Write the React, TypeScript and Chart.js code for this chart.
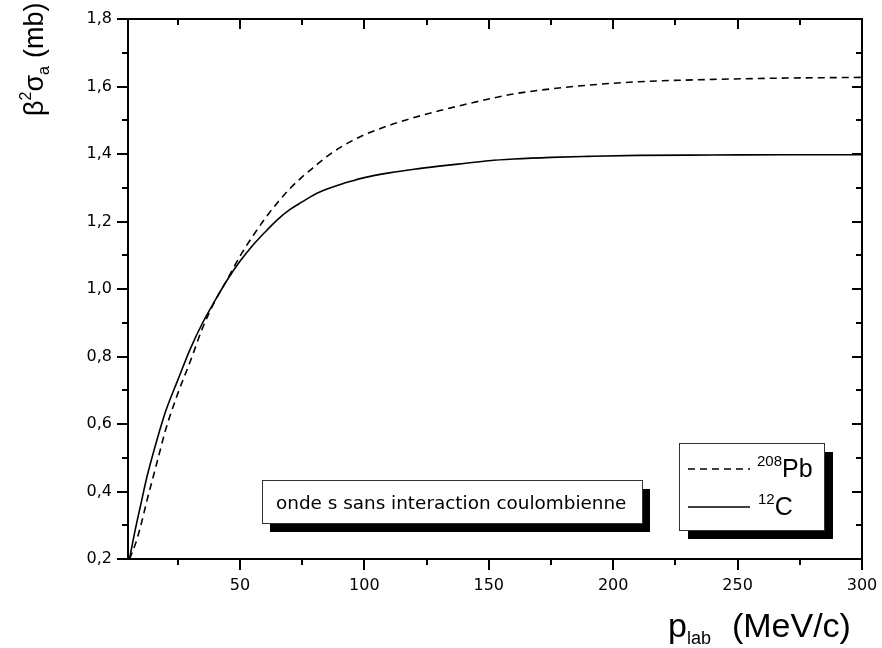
import React, { useEffect, useRef } from "react";
import { Chart, registerables } from "chart.js";

Chart.register(...registerables);

// momentum p_lab (MeV/c)
const pLab = [5.6, 8, 10, 12.5, 15, 17.5, 20, 25, 30, 35, 40, 45, 50, 55, 60, 65, 70, 75, 80, 85, 90, 95, 100, 110, 120, 130, 140, 150, 160, 175, 190, 210, 240, 270, 300];
// beta^2 sigma_a (mb), 208Pb (dashed)
const sigmaPb = [0.2, 0.245, 0.295, 0.37, 0.44, 0.51, 0.58, 0.69, 0.785, 0.885, 0.965, 1.03, 1.097, 1.155, 1.208, 1.255, 1.297, 1.332, 1.363, 1.393, 1.418, 1.439, 1.457, 1.485, 1.508, 1.528, 1.546, 1.563, 1.578, 1.593, 1.604, 1.614, 1.621, 1.625, 1.627];
// beta^2 sigma_a (mb), 12C (solid)
const sigmaC = [0.2, 0.29, 0.357, 0.44, 0.51, 0.575, 0.635, 0.73, 0.822, 0.9, 0.966, 1.028, 1.082, 1.128, 1.168, 1.205, 1.235, 1.258, 1.28, 1.296, 1.309, 1.32, 1.33, 1.344, 1.355, 1.364, 1.372, 1.38, 1.385, 1.39, 1.393, 1.396, 1.397, 1.398, 1.398];

const xMajorTicks = [50, 100, 150, 200, 250, 300];
const xMinorTicks = [25, 75, 125, 175, 225, 275];
const yMajorTicks = [0.2, 0.4, 0.6, 0.8, 1.0, 1.2, 1.4, 1.6, 1.8];
const yMinorTicks = [0.3, 0.5, 0.7, 0.9, 1.1, 1.3, 1.5, 1.7];

const X_MIN = 5;
const X_MAX = 300;
const Y_MIN = 0.2;
const Y_MAX = 1.8;

const boxText = "onde s sans interaction coulombienne";
const legendPb = { sup: "208", main: "Pb" };
const legendC = { sup: "12", main: "C" };

const SANS = "'Liberation Sans', Arial, sans-serif";
const VERD = "'DejaVu Sans', Verdana, sans-serif";

type Piece = { text: string; size: number; dy: number; gapAfter?: number };

function drawPieces(ctx: CanvasRenderingContext2D, pieces: Piece[], x: number, y: number) {
  let cx = x;
  for (const p of pieces) {
    ctx.font = `${p.size}px ${SANS}`;
    ctx.fillText(p.text, cx, y + p.dy);
    cx += ctx.measureText(p.text).width + (p.gapAfter || 0);
  }
  return cx;
}

const decorPlugin = {
  id: "decor",
  afterDraw(chart: any) {
    const ctx: CanvasRenderingContext2D = chart.ctx;
    const { left, right, top, bottom } = chart.chartArea;
    const xs = chart.scales.x;
    const ys = chart.scales.y;
    ctx.save();
    ctx.strokeStyle = "#000";
    ctx.fillStyle = "#000";
    ctx.setLineDash([]);
    const line = (x1: number, y1: number, x2: number, y2: number) => {
      ctx.beginPath();
      ctx.moveTo(x1, y1);
      ctx.lineTo(x2, y2);
      ctx.stroke();
    };
    ctx.lineWidth = 2;
    // frame
    ctx.strokeRect(left, top, right - left, bottom - top);
    // x ticks
    for (const v of xMajorTicks) {
      const px = Math.round(xs.getPixelForValue(v));
      line(px, bottom, px, bottom + 11);
      line(px, top, px, top + 10);
    }
    for (const v of xMinorTicks) {
      const px = Math.round(xs.getPixelForValue(v));
      line(px, bottom, px, bottom + 6);
      line(px, top, px, top + 6);
    }
    for (const v of yMajorTicks) {
      const py = Math.round(ys.getPixelForValue(v));
      line(left - 11, py, left, py);
      line(right, py, right - 10, py);
    }
    for (const v of yMinorTicks) {
      const py = Math.round(ys.getPixelForValue(v));
      line(left - 6, py, left, py);
      line(right, py, right - 6, py);
    }

    // y axis title (rotated)
    ctx.save();
    ctx.translate(43, 116);
    ctx.rotate(-Math.PI / 2);
    ctx.textBaseline = "alphabetic";
    ctx.textAlign = "left";
    drawPieces(
      ctx,
      [
        { text: "\u03B2", size: 27, dy: 0 },
        { text: "2", size: 16, dy: -12 },
        { text: "\u03C3", size: 27, dy: 0 },
        { text: "a", size: 16, dy: 6, gapAfter: 8 },
        { text: "(mb)", size: 27, dy: 0 },
      ],
      0,
      0
    );
    ctx.restore();

    // x axis title
    ctx.textBaseline = "alphabetic";
    ctx.textAlign = "left";
    drawPieces(
      ctx,
      [
        { text: "p", size: 34, dy: 0 },
        { text: "lab", size: 18, dy: 7, gapAfter: 21 },
        { text: "(MeV/c)", size: 34, dy: 0 },
      ],
      668,
      637
    );

    // text box with shadow
    const b1 = { x: 262, y: 480, w: 380, h: 43 };
    ctx.fillStyle = "#000";
    ctx.fillRect(b1.x + 8, b1.y + 9, b1.w, b1.h);
    ctx.fillStyle = "#fff";
    ctx.fillRect(b1.x, b1.y, b1.w, b1.h);
    ctx.lineWidth = 1;
    ctx.strokeStyle = "#333";
    ctx.strokeRect(b1.x + 0.5, b1.y + 0.5, b1.w, b1.h);
    ctx.fillStyle = "#000";
    ctx.font = `18.4px ${VERD}`;
    ctx.fillText(boxText, b1.x + 14, b1.y + 29);

    // legend box with shadow
    const b2 = { x: 679, y: 443, w: 145, h: 87 };
    ctx.fillStyle = "#000";
    ctx.fillRect(b2.x + 9, b2.y + 9, b2.w, b2.h);
    ctx.fillStyle = "#fff";
    ctx.fillRect(b2.x, b2.y, b2.w, b2.h);
    ctx.strokeStyle = "#333";
    ctx.lineWidth = 1;
    ctx.strokeRect(b2.x + 0.5, b2.y + 0.5, b2.w, b2.h);
    ctx.strokeStyle = "#000";
    ctx.lineWidth = 1.5;
    ctx.setLineDash([7, 5]);
    line(b2.x + 9, b2.y + 26, b2.x + 71, b2.y + 26);
    ctx.setLineDash([]);
    line(b2.x + 9, b2.y + 64, b2.x + 71, b2.y + 64);
    ctx.fillStyle = "#000";
    drawPieces(
      ctx,
      [
        { text: legendPb.sup, size: 15, dy: -11 },
        { text: legendPb.main, size: 25, dy: 0 },
      ],
      b2.x + 78,
      b2.y + 34
    );
    drawPieces(
      ctx,
      [
        { text: legendC.sup, size: 15, dy: -11 },
        { text: legendC.main, size: 25, dy: 0 },
      ],
      b2.x + 79,
      b2.y + 72
    );
    ctx.restore();
  },
};

export default function App() {
  const ref = useRef<HTMLCanvasElement | null>(null);
  useEffect(() => {
    if (!ref.current) return;
    const chart = new Chart(ref.current, {
      type: "line",
      data: {
        datasets: [
          {
            label: "208Pb",
            data: pLab.map((x, i) => ({ x, y: sigmaPb[i] })),
            borderColor: "#000",
            borderWidth: 1.6,
            borderDash: [7, 5],
            pointRadius: 0,
            cubicInterpolationMode: "monotone",
            fill: false,
          },
          {
            label: "12C",
            data: pLab.map((x, i) => ({ x, y: sigmaC[i] })),
            borderColor: "#000",
            borderWidth: 1.6,
            pointRadius: 0,
            cubicInterpolationMode: "monotone",
            fill: false,
          },
        ],
      },
      options: {
        animation: false,
        responsive: false,
        devicePixelRatio: 1,
        layout: { padding: { top: 19, right: 20, left: 0, bottom: 0 } },
        plugins: { legend: { display: false }, tooltip: { enabled: false } },
        scales: {
          x: {
            type: "linear",
            min: X_MIN,
            max: X_MAX,
            afterBuildTicks: (s: any) => {
              s.ticks = xMajorTicks.map((v) => ({ value: v }));
            },
            afterFit: (s: any) => {
              s.height = 89;
              s.paddingLeft = 0;
              s.paddingRight = 0;
            },
            ticks: {
              autoSkip: false,
              maxRotation: 0,
              padding: 17,
              color: "#000",
              font: { family: VERD, size: 16 },
              callback: (v: any) => String(v),
            },
            grid: { display: false, drawTicks: false, tickLength: 0 },
            border: { display: false },
          },
          y: {
            type: "linear",
            min: Y_MIN,
            max: Y_MAX,
            afterBuildTicks: (s: any) => {
              s.ticks = yMajorTicks.map((v) => ({ value: v }));
            },
            afterFit: (s: any) => {
              s.width = 128;
              s.paddingTop = 0;
              s.paddingBottom = 0;
            },
            ticks: {
              autoSkip: false,
              padding: 16,
              color: "#000",
              font: { family: VERD, size: 16 },
              callback: (v: any) => Number(v).toFixed(1).replace(".", ","),
            },
            grid: { display: false, drawTicks: false, tickLength: 0 },
            border: { display: false },
          },
        },
      },
      plugins: [decorPlugin],
    } as any);
    return () => chart.destroy();
  }, []);
  return (
    <div style={{ position: "absolute", left: 0, top: 0, width: 882, height: 648, background: "#fff" }}>
      <canvas ref={ref} width={882} height={648} style={{ display: "block" }} />
    </div>
  );
}
